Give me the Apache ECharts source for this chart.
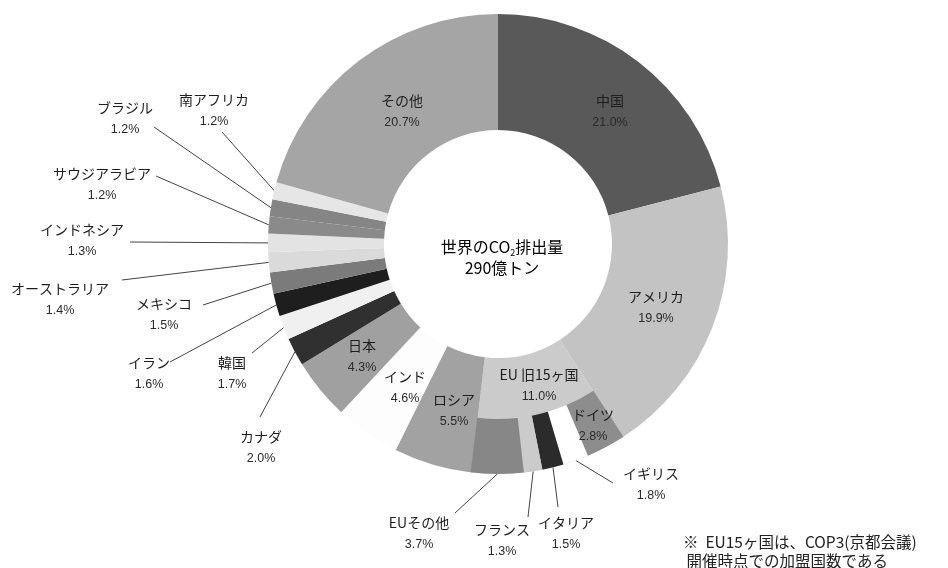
<!DOCTYPE html>
<html>
<head>
<meta charset="utf-8">
<script src="https://cdn.jsdelivr.net/npm/echarts@6/dist/echarts.min.js"></script>
<style>
  html, body { margin: 0; padding: 0; background: #ffffff; }
  #chart { width: 948px; height: 568px; }
</style>
</head>
<body>
<div id="chart"></div>
<script>
// 世界のCO2排出量 国別シェア (%)
const countries = ['中国', 'アメリカ', 'EU 旧15ヶ国', 'ロシア', 'インド', '日本', 'カナダ', '韓国',
  'イラン', 'メキシコ', 'オーストラリア', 'インドネシア', 'サウジアラビア', 'ブラジル', '南アフリカ', 'その他'];
const shares = [21.0, 19.9, 11.0, 5.5, 4.6, 4.3, 2.0, 1.7, 1.6, 1.5, 1.4, 1.3, 1.2, 1.2, 1.2, 20.7];

// EU 旧15ヶ国の内訳 (%)
const euMembers = ['ドイツ', 'イギリス', 'イタリア', 'フランス', 'EUその他'];
const euShares = [2.8, 1.8, 1.5, 1.3, 3.7];

// 塗り色 (グレースケール)
const countryColors = ['#595959', '#c3c3c3', '#cbcbcb', '#a2a2a2', '#fdfdfd', '#a0a0a0', '#303030', '#f0f0f0',
  '#1e1e1e', '#7b7b7b', '#dadada', '#e3e3e3', '#8a8a8a', '#858585', '#e6e6e6', '#a5a5a5'];
const euColors = ['#8d8d8d', '#ffffff', '#2b2b2b', '#cbcbcb', '#878787'];

// ラベル配置: at = ラベル中心, to = 引出線の終点
const labelPos = {
  '中国': { at: [610, 112] },
  'アメリカ': { at: [656, 308] },
  'EU 旧15ヶ国': { at: [539, 386] },
  'ドイツ': { at: [593, 426] },
  'ロシア': { at: [454, 411] },
  'インド': { at: [405, 388] },
  '日本': { at: [362, 357] },
  'その他': { at: [402, 112] },
  '南アフリカ': { at: [214, 111], to: [222, 132] },
  'ブラジル': { at: [125, 119], to: [154, 127] },
  'サウジアラビア': { at: [102, 185], to: [156, 176] },
  'インドネシア': { at: [82, 241], to: [130, 242] },
  'オーストラリア': { at: [60, 300], to: [122, 280] },
  'メキシコ': { at: [164, 315], to: [203, 305] },
  'イラン': { at: [149, 374], to: [170, 362] },
  '韓国': { at: [232, 374], to: [252, 353] },
  'カナダ': { at: [261, 448], to: [260, 417] },
  'イギリス': { at: [651, 485], to: [613, 483] },
  'イタリア': { at: [566, 534], to: [558, 507] },
  'フランス': { at: [502, 541], to: [528, 517] },
  'EUその他': { at: [419, 534], to: [455, 513] }
};

const CENTER = [498, 244];
const R_IN = 114, R_MID = 175, R_OUT = 230;

const labelRich = {
  n: { fontSize: 14, fontFamily: 'Noto Sans CJK JP', color: '#1e1e1e', lineHeight: 22, align: 'center' },
  p: { fontSize: 12.5, fontFamily: 'Liberation Sans', color: '#2a2a2a', lineHeight: 22, align: 'center' }
};

function fmt(p) {
  return '{n|' + p.name + '}\n{p|' + p.value.toFixed(1) + '%}';
}

function makeLayout(names) {
  return function (p) {
    const pos = labelPos[names[p.dataIndex]];
    if (!pos) return {};
    const out = { x: pos.at[0], y: pos.at[1], align: 'center', verticalAlign: 'middle' };
    if (pos.to && p.labelLinePoints) {
      const s = p.labelLinePoints[0];
      out.labelLinePoints = [s, pos.to, pos.to];
    }
    return out;
  };
}

// 外側リング: 国別
const mainData = countries.map((name, i) => {
  const outside = !!(labelPos[name] && labelPos[name].to);
  return {
    name: name,
    value: shares[i],
    itemStyle: { color: countryColors[i] },
    labelLine: { show: outside }
  };
});

// 内訳リング: EU部分のみ描画し、それ以外は透明
const subNames = [];
const subData = [];
countries.forEach((name, i) => {
  if (name === 'EU 旧15ヶ国') {
    euMembers.forEach((m, j) => {
      subNames.push(m);
      const outside = !!(labelPos[m] && labelPos[m].to);
      subData.push({
        name: m,
        value: euShares[j],
        itemStyle: { color: euColors[j] },
        labelLine: { show: outside }
      });
    });
  } else {
    subNames.push(null);
    subData.push({
      name: '_' + name,
      value: shares[i],
      itemStyle: { color: 'rgba(0,0,0,0)' },
      label: { show: false },
      labelLine: { show: false },
      emphasis: { disabled: true },
      tooltip: { show: false }
    });
  }
});

const chart = echarts.init(document.getElementById('chart'), null, { renderer: 'canvas' });

chart.setOption({
  backgroundColor: '#ffffff',
  animation: false,
  series: [
    {
      type: 'pie',
      center: CENTER,
      radius: [R_IN, R_OUT],
      startAngle: 90,
      clockwise: true,
      avoidLabelOverlap: false,
      itemStyle: { borderWidth: 0 },
      emphasis: { disabled: true },
      label: { show: true, position: 'outside', formatter: fmt, rich: labelRich },
      labelLine: { length: 10, length2: 10, smooth: false, lineStyle: { color: '#444', width: 1 } },
      labelLayout: makeLayout(countries),
      data: mainData
    },
    {
      type: 'pie',
      center: CENTER,
      radius: [R_MID, R_OUT],
      startAngle: 90,
      clockwise: true,
      avoidLabelOverlap: false,
      itemStyle: { borderWidth: 0 },
      emphasis: { disabled: true },
      label: { show: true, position: 'outside', formatter: fmt, rich: labelRich },
      labelLine: { length: 10, length2: 10, smooth: false, lineStyle: { color: '#444', width: 1 } },
      labelLayout: makeLayout(subNames),
      data: subData
    }
  ],
  graphic: [
    {
      type: 'text',
      x: 502, y: 257,
      style: {
        text: '{a|世界のCO}{s|2}{a|排出量}\n{a|290億トン}',
        align: 'center',
        verticalAlign: 'middle',
        rich: {
          a: { fontSize: 16, fontFamily: 'Noto Sans CJK JP', color: '#222', lineHeight: 21 },
          s: { fontSize: 9, fontFamily: 'Noto Sans CJK JP', color: '#222', lineHeight: 21, verticalAlign: 'bottom', padding: [8, 0, 0, 0] }
        }
      }
    },
    {
      type: 'text',
      x: 683, y: 533,
      style: {
        text: '※  EU15ヶ国は、COP3(京都会議)\n 開催時点での加盟国数である',
        fontSize: 15.5,
        fontFamily: 'Noto Sans CJK JP',
        fill: '#222',
        lineHeight: 19
      }
    }
  ]
});
</script>
</body>
</html>
